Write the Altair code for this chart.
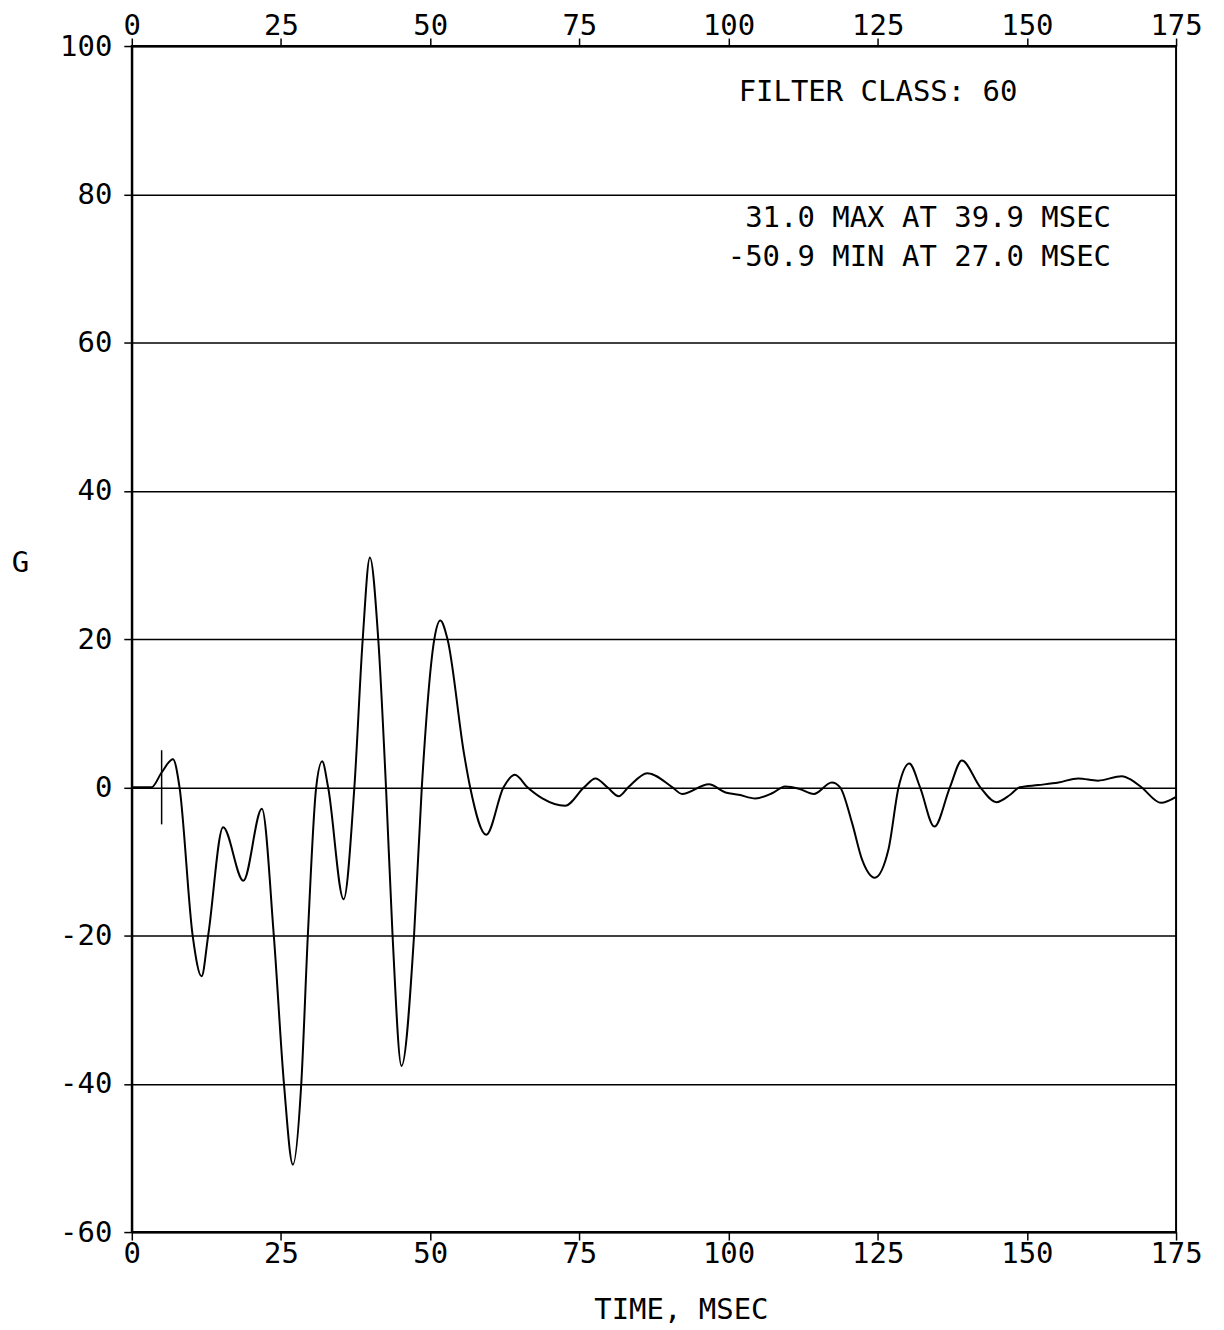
import altair as alt
import pandas as pd

# ---- data ----
time_ms = [0, 3.3, 5.0, 6.9, 8.0, 10.2, 11.7, 12.8, 15.3, 18.7, 21.8, 23.8, 25.5, 27.0,
           28.4, 29.5, 30.9, 31.9, 32.9, 35.5, 37.3, 38.7, 39.9, 41.3, 42.6, 43.7, 45.2,
           47.3, 48.6, 50.7, 51.7, 52.9, 55.7, 56.7, 59.4, 62.3, 64.2, 66.3, 68.8, 72.6,
           75.8, 77.7, 79.7, 81.6, 83.2, 86.4, 90.6, 92.2, 96.7, 99.5, 101.7, 104.5,
           107.3, 109.5, 111.8, 114.3, 117.3, 118.7, 120.7, 122.4, 124.5, 126.8, 128.5,
           130.3, 132.1, 134.5, 137.1, 139.1, 142.2, 144.9, 147.2, 148.8, 151.9, 155.3,
           158.6, 161.9, 165.9, 167.5, 169.2, 172.5, 175.0]
accel_g = [0, 0, 2.0, 3.8, 0, -20, -25.5, -20, -5.4, -12.6, -2.9, -20, -40, -50.9,
           -40, -20, 0, 3.5, 0, -15.1, 0, 20, 31.0, 20, 0, -20, -37.6,
           -20, 0, 20, 22.5, 20, 4.4, 0, -6.4, 0, 1.7, 0, -1.5, -2.5,
           0, 1.2, 0, -1.2, 0, 1.9, 0, -0.9, 0.4, -0.7, -1.0, -1.5,
           -0.8, 0.1, -0.2, -0.9, 0.65, 0, -4.8, -9.8, -12.2, -8.4, 0,
           3.2, 0, -5.3, 0, 3.6, 0, -2.0, -1.0, 0, 0.3, 0.65,
           1.2, 0.9, 1.5, 1.0, 0, -2.1, -1.3]

marker_t = [5.0]
marker_lo = [-5.0]
marker_hi = [5.0]

x_ticks = [0, 25, 50, 75, 100, 125, 150, 175]
y_ticks = [-60, -40, -20, 0, 20, 40, 60, 80, 100]

note_left_text = ["FILTER CLASS: 60"]
note_left_t = [101.7]
note_left_g = [93.8]

note_right_text = ["31.0 MAX AT 39.9 MSEC", "-50.9 MIN AT 27.0 MSEC"]
note_right_t = [164.1, 164.1]
note_right_g = [76.8, 71.6]

FONT = "DejaVu Sans Mono"
FS = 29

curve = pd.DataFrame({"t": time_ms, "g": accel_g})
marker = pd.DataFrame({"t": marker_t, "lo": marker_lo, "hi": marker_hi})
notes_l = pd.DataFrame({"t": note_left_t, "g": note_left_g, "txt": note_left_text})
notes_r = pd.DataFrame({"t": note_right_t, "g": note_right_g, "txt": note_right_text})

x_scale = alt.Scale(domain=[0, 175], nice=False, zero=False)
y_scale = alt.Scale(domain=[-60, 100], nice=False, zero=False)

common = dict(labelFont=FONT, labelFontSize=FS, labelColor="black",
              tickColor="black", tickWidth=1.5, tickSize=8,
              domainColor="black", domainWidth=2,
              titleFont=FONT, titleFontSize=FS, titleFontWeight="normal",
              titleColor="black", labelOverlap=False)

plain_minus = "datum.value < 0 ? '-' + abs(datum.value) : '' + datum.value"

y_axis = alt.Axis(orient="left", values=y_ticks, title="G", titleAngle=0,
                  titleX=-112, titleY=517, titleAlign="center", titleBaseline="middle",
                  labelPadding=12, labelBaseline="middle", labelAlign="right",
                  labelExpr=plain_minus,
                  grid=True, gridColor="black", gridWidth=1.6, gridOpacity=1,
                  **common)

line = alt.Chart(curve).mark_line(color="black", strokeWidth=2, interpolate="monotone").encode(
    x=alt.X("t:Q", scale=x_scale,
            axis=alt.Axis(orient="bottom", values=x_ticks, title="TIME, MSEC",
                          titleX=550, titleY=78, titleAlign="center", titleBaseline="middle",
                          labelPadding=13, labelBaseline="middle", labelFlush=False,
                          grid=False, **common)),
    y=alt.Y("g:Q", scale=y_scale, axis=y_axis),
)

rule = alt.Chart(marker).mark_rule(color="black", strokeWidth=1.5).encode(
    x=alt.X("t:Q", scale=x_scale,
            axis=alt.Axis(orient="top", values=x_ticks, title=None,
                          labelPadding=13, labelBaseline="middle", labelFlush=False,
                          grid=False, **common)),
    y=alt.Y("lo:Q", scale=y_scale, axis=y_axis),
    y2="hi:Q",
)

txt_l = alt.Chart(notes_l).mark_text(font=FONT, fontSize=FS, color="black",
                                     align="left", baseline="middle").encode(
    x=alt.X("t:Q", scale=x_scale, axis=None),
    y=alt.Y("g:Q", scale=y_scale, axis=y_axis),
    text="txt:N",
)

txt_r = alt.Chart(notes_r).mark_text(font=FONT, fontSize=FS, color="black",
                                     align="right", baseline="middle").encode(
    x=alt.X("t:Q", scale=x_scale, axis=None),
    y=alt.Y("g:Q", scale=y_scale, axis=y_axis),
    text="txt:N",
)

chart = alt.layer(line, rule, txt_l, txt_r).resolve_axis(x="independent").properties(
    width=1046, height=1188,
    autosize=alt.AutoSizeParams(type="none"),
    padding={"left": 124, "top": 37, "right": 40, "bottom": 95},
    background="white",
).configure_view(stroke="black", strokeWidth=2)

chart.save("out.html", embed_options={"renderer": "svg", "actions": False})
